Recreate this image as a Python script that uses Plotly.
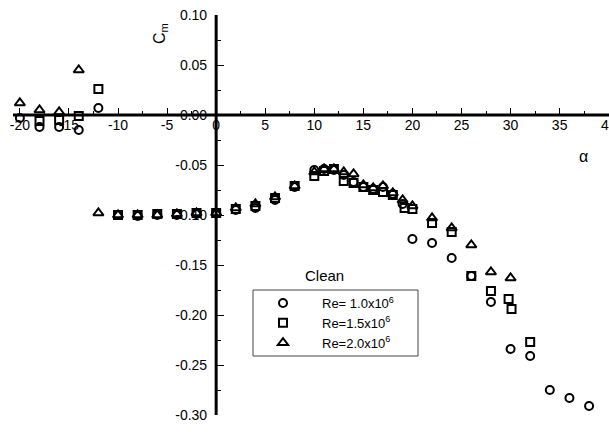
import plotly.graph_objects as go

# Re = 1.0x10^6 (circles)
alpha_re10 = [-20, -18, -16, -14, -12, -10, -8, -6, -4, -2, 0, 2, 4, 6, 8, 10, 11, 12, 13, 14, 15, 16, 17, 18, 19,
              20, 22, 24, 26, 28, 30, 32, 34, 36, 38]
cm_re10 = [-0.003, -0.012, -0.012, -0.015, 0.007, -0.100, -0.101, -0.100, -0.100, -0.099, -0.098, -0.095, -0.093,
           -0.085, -0.072, -0.055, -0.054, -0.055, -0.060, -0.067, -0.072, -0.074, -0.072, -0.079, -0.089,
           -0.124, -0.128, -0.143, -0.161, -0.187, -0.234, -0.241, -0.275, -0.283, -0.291]

# Re = 1.5x10^6 (squares)
alpha_re15 = [-18, -16, -14, -12, -10, -8, -6, -4, -2, 0, 2, 4, 6, 8, 10, 11, 12, 13, 14, 15, 16, 17, 18, 19.2,
              20, 22, 24, 26, 28, 29.8, 30.1, 32]
cm_re15 = [-0.006, -0.005, -0.001, 0.026, -0.100, -0.100, -0.099, -0.099, -0.098, -0.098, -0.094, -0.091, -0.083,
           -0.071, -0.061, -0.056, -0.054, -0.066, -0.068, -0.072, -0.075, -0.077, -0.080, -0.093,
           -0.094, -0.108, -0.117, -0.161, -0.176, -0.184, -0.194, -0.227]

# Re = 2.0x10^6 (triangles)
alpha_re20 = [-20, -18, -16, -14, -12, -10, -8, -6, -4, -2, 0, 2, 4, 6, 8, 10, 11, 12, 13, 14, 15, 16, 17, 18, 19,
              20, 22, 24, 26, 28, 30]
cm_re20 = [0.012, 0.005, 0.003, 0.045, -0.098, -0.100, -0.100, -0.100, -0.099, -0.098, -0.098, -0.093, -0.089,
           -0.082, -0.071, -0.057, -0.054, -0.054, -0.057, -0.059, -0.070, -0.073, -0.071, -0.078, -0.085,
           -0.091, -0.103, -0.113, -0.130, -0.157, -0.163]

x_tickvals = [-20, -15, -10, -5, 0, 5, 10, 15, 20, 25, 30, 35, 40]
x_ticktext = ["-20", "-15", "-10", "-5", "0", "5", "10", "15", "20", "25", "30", "35", "40"]
y_tickvals = [-0.30, -0.25, -0.20, -0.15, -0.10, -0.05, 0.0, 0.05, 0.10]
y_ticktext = ["-0.30", "-0.25", "-0.20", "-0.15", "-0.10", "-0.05", "-0.00", "0.05", "0.10"]

legend_names = ["Re= 1.0x10<sup>6</sup>", "Re=1.5x10<sup>6</sup>", "Re=2.0x10<sup>6</sup>"]

FONT = "Liberation Sans, Arial, sans-serif"
X_RANGE = [-20.7, 40.03]
Y_RANGE = [-0.30, 0.10]

# pixel helpers for the 609x432 canvas (plot area: x 13..609, y 15..415)
L, T, W, H = 13, 15, 596, 400


def px(xp):
    return (xp - L) / W


def py(yp):
    return (T + H - yp) / H


fig = go.Figure()
series = [
    (alpha_re10, cm_re10, "circle-open", 8),
    (alpha_re15, cm_re15, "square-open", 8),
    (alpha_re20, cm_re20, "triangle-up-open", 9),
]
for (xs, ys, sym, size), name in zip(series, legend_names):
    fig.add_trace(go.Scatter(
        x=xs, y=ys, mode="markers", name=name,
        marker=dict(symbol=sym, size=size, color="black", line=dict(width=2, color="black")),
        cliponaxis=False,
    ))

xpos = (0 - Y_RANGE[0]) / (Y_RANGE[1] - Y_RANGE[0])
ypos = (0 - X_RANGE[0]) / (X_RANGE[1] - X_RANGE[0])

fig.update_layout(
    width=609, height=432,
    margin=dict(l=L, r=609 - L - W, t=T, b=432 - T - H, autoexpand=False),
    paper_bgcolor="white", plot_bgcolor="white",
    font=dict(family=FONT, size=14, color="black"),
    xaxis=dict(
        range=X_RANGE, anchor="free", position=xpos, automargin=False,
        showline=False, showgrid=False, zeroline=False,
        ticks="inside", ticklen=7, tickwidth=1, tickcolor="black",
        tickvals=x_tickvals, ticktext=x_ticktext,
        minor=dict(dtick=2.5, tick0=0, ticks="inside", ticklen=4, tickwidth=1, tickcolor="black"),
        tickfont=dict(size=14),
        ticklabeloverflow="allow",
    ),
    yaxis=dict(
        range=Y_RANGE, anchor="free", position=ypos, automargin=False,
        showline=False, showgrid=False, zeroline=False,
        ticks="inside", ticklen=7, tickwidth=1, tickcolor="black",
        tickvals=y_tickvals, ticktext=y_ticktext,
        minor=dict(dtick=0.025, tick0=0, ticks="inside", ticklen=4, tickwidth=1, tickcolor="black"),
        tickfont=dict(size=14),
        ticklabelstandoff=9,
        ticklabeloverflow="allow",
    ),
    legend=dict(
        x=px(244), y=py(288), xanchor="left", yanchor="top",
        borderwidth=0, bgcolor="rgba(0,0,0,0)",
        font=dict(size=13), itemwidth=68,
    ),
    showlegend=True,
    shapes=[
        # axis lines crossing at the origin
        dict(type="line", xref="paper", yref="y", x0=0, x1=1, y0=0, y1=0,
             line=dict(color="black", width=3), layer="below"),
        dict(type="line", xref="x", yref="paper", x0=0, x1=0, y0=0, y1=1,
             line=dict(color="black", width=3), layer="below"),
        # legend frame
        dict(type="rect", xref="paper", yref="paper", x0=px(253), x1=px(418), y0=py(290), y1=py(356),
             line=dict(color="#444", width=1), fillcolor="rgba(0,0,0,0)", layer="below"),
    ],
    annotations=[
        dict(text="C<sub>m</sub>", x=px(161), y=py(34), xref="paper", yref="paper", showarrow=False,
             textangle=-90, font=dict(size=16), xanchor="center", yanchor="middle"),
        dict(text="Clean", x=px(324), y=py(275), xref="paper", yref="paper", showarrow=False,
             font=dict(size=15), xanchor="center", yanchor="middle"),
        dict(text="α", x=px(583), y=py(156), xref="paper", yref="paper", showarrow=False,
             font=dict(size=16), xanchor="center", yanchor="middle"),
    ],
)

fig.write_html("out.html")
